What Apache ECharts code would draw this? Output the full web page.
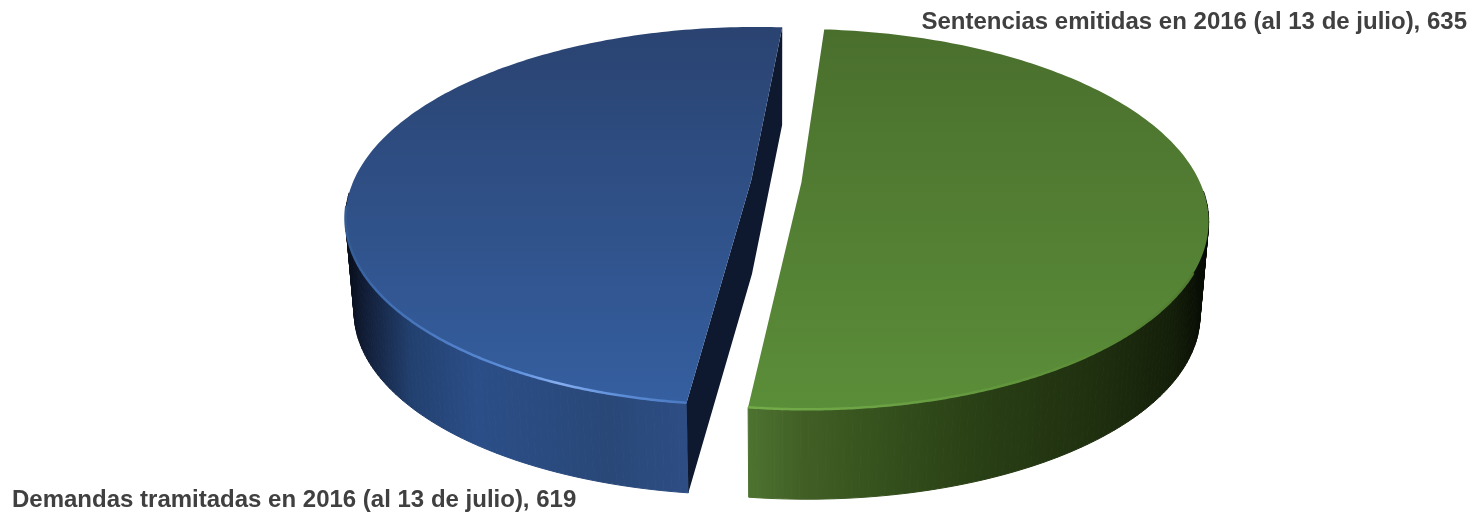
<!DOCTYPE html>
<html><head><meta charset="utf-8">
<style>html,body{margin:0;padding:0;background:#fff}#c{width:1477px;height:515px}</style>
<script src="https://cdn.jsdelivr.net/npm/echarts@6/dist/echarts.min.js"></script>
</head><body><div id="c"></div>
<script>
var sliceNames = ['Sentencias emitidas en 2016 (al 13 de julio)', 'Demandas tramitadas en 2016 (al 13 de julio)'];
var sliceValues = [635, 619];

// Perspective projection of the pie's disk onto the page
var view = {ax:776.5, ay:181, A:398, B:182.5, k:0.1926, startDeg:-85.4, floorY:94.5, floorScale:0.98};
var explode = [{u:0.0625, v:0.008}, {u:-0.063, v:-0.008}];
var looks = [
 {top:[[0,'#4a6f2d'],[1,'#5b8e39']],
  wall:[[0,'#4d7330'],[0.12,'#415f25'],[0.3,'#34501c'],[0.5,'#293f15'],[0.75,'#1f300f'],[0.92,'#141f09'],[1,'#050803']],
  rim:[[0,'#74ad4a'],[0.35,'#6aa043'],[0.7,'#5e9139'],[1,'#4f7a30']]},
 {top:[[0,'#2a4371'],[1,'#355fa0']],
  wall:[[0,'#060b16'],[0.05,'#121f3a'],[0.15,'#22406f'],[0.3,'#2b4e88'],[0.6,'#294878'],[0.78,'#2d4d84'],[1,'#2d4d84']],
  rim:[[0,'#32598f'],[0.1,'#3f6cb0'],[0.5,'#5f90dc'],[0.62,'#86aef0'],[0.8,'#5d8ed8'],[1,'#4a78c0']],
  cut:'#0e1930'}
];
var labelAnchors = [{x:1467, y:22, align:'right'}, {x:12, y:500, align:'left'}];

var total = sliceValues.reduce(function(a,b){return a+b;},0);

function project(U, V, floor){
  var w = 1 - view.k * V, s = floor ? view.floorScale : 1;
  return [view.ax + s*view.A*U/w, view.ay + (floor ? view.floorY : 0) + s*view.B*V/w];
}
function arc(from, to, ex, floor){
  var pts = [], n = 180;
  for (var i=0;i<=n;i++){
    var t = (from + (to-from)*i/n)*Math.PI/180;
    pts.push(project(Math.cos(t)+ex.u, Math.sin(t)+ex.v, floor));
  }
  return pts;
}
function grad(stops, vertical){
  return {type:'linear', x:0, y:0, x2:vertical?0:1, y2:vertical?1:0,
    colorStops:stops.map(function(s){return {offset:s[0], color:s[1]};})};
}
function pageGrad(stops, x0, x1){
  return {type:'linear', global:true, x:x0, y:0, x2:x1, y2:0,
    colorStops:stops.map(function(s){return {offset:s[0], color:s[1]};})};
}
function renderSlice(params, api){
  var i = params.dataIndex, v = api.value(0), before = 0;
  for (var j=0;j<i;j++) before += sliceValues[j];
  var a0 = view.startDeg + before/total*360, a1 = a0 + v/total*360;
  var ex = explode[i], look = looks[i];
  var top = arc(a0,a1,ex,false), floor = arc(a0,a1,ex,true);
  var apexT = project(ex.u,ex.v,false), apexF = project(ex.u,ex.v,true);
  var xs = top.map(function(p){return p[0];});
  var wallFill = pageGrad(look.wall, Math.min.apply(null,xs), Math.max.apply(null,xs));
  var kids = [];
  // The wall is swept as strips between the rims; strips behind the top face are never seen
  for (var q=0;q<top.length-1;q++){
    if (top[q][1] < view.ay + 10 || top[q+1][1] < view.ay + 10) continue;
    kids.push({type:'polygon', shape:{points:[top[q],top[q+1],floor[q+1],floor[q]]},
      style:{fill:wallFill, stroke:wallFill, lineWidth:1}});
  }
  if (look.cut) {
    kids.push({type:'polygon', shape:{points:[top[180],apexT,top[0],floor[0],apexF,floor[180]]}, style:{fill:look.cut}, z2:1});
  }
  kids.push({type:'polygon', shape:{points:top.concat([apexT])}, style:{fill:grad(look.top,true)}, z2:2});
  // Bright front rim: the green one runs rightward from the cut, the blue one leftward
  var front = i===0 ? arc(a1, a1-70, ex, false) : arc(a0+75, a0, ex, false);
  kids.push({type:'polyline', shape:{points:front}, style:{fill:null, stroke:grad(look.rim), lineWidth:2.5}, z2:3});
  var anchor = labelAnchors[i];
  kids.push({type:'text', x:anchor.x, y:anchor.y, z2:4, style:{
    text:sliceNames[i]+', '+v, align:anchor.align, verticalAlign:'middle',
    font:'bold 24px "Liberation Sans", Arial, sans-serif', fill:'#404040'}});
  return {type:'group', children:kids};
}
var chart = echarts.init(document.getElementById('c'), null, {renderer:'canvas'});
chart.setOption({
  animation:false,
  backgroundColor:'#fff',
  series:[{type:'custom', coordinateSystem:'none', renderItem:renderSlice, data:sliceValues.map(function(v){return [v];})}]
});
</script></body></html>
